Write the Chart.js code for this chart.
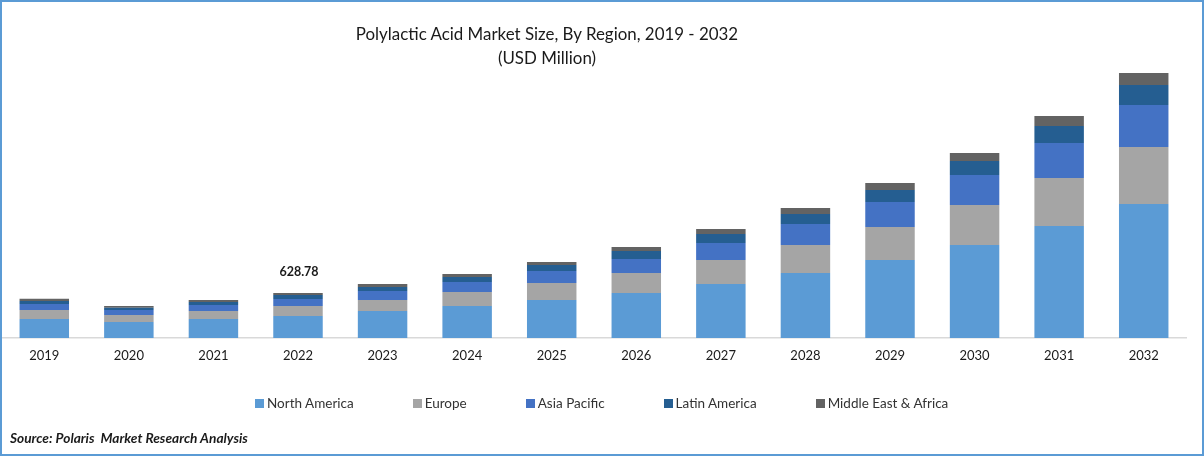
<!DOCTYPE html>
<html>
<head>
<meta charset="utf-8">
<script src="https://cdn.jsdelivr.net/npm/chart.js@4"></script>
<style>
    html, body { margin: 0; padding: 0; background: #fff; }
    #frame { position: relative; width: 1204px; height: 456px; overflow: hidden; font-family: Lato, sans-serif; color: #1a1a1a; }
    #frame::after { content: ""; position: absolute; inset: 0; border: 2px solid #5b9bd5; pointer-events: none; }
    #barChart { position: absolute; left: 0; top: 0; }
    #title { position: absolute; left: 247px; width: 600px; top: 22px; text-align: center; font-size: 16.9px; line-height: 24px; }
    #donutLegend { position: absolute; left: 255px; top: 395px; display: flex; gap: 59px; font-size: 13.5px; line-height: 17px; color: #333; white-space: nowrap; }
    #donutLegend span.swatch { display: inline-block; width: 9px; height: 9px; margin-right: 3px; }
    #source { position: absolute; left: 10px; top: 430px; font-size: 13.7px; line-height: 16px; font-weight: bold; font-style: italic; }
</style>
</head>
<body>
<div id="frame">
    <canvas id="barChart" width="1204" height="456"></canvas>
    <div id="title">Polylactic Acid Market Size, By Region, 2019 - 2032<br>(USD Million)</div>
    <div id="donutLegend"></div>
    <div id="source">Source: Polaris&nbsp; Market Research Analysis</div>
</div>
<script>
const years = ["2019", "2020", "2021", "2022", "2023", "2024", "2025", "2026", "2027", "2028", "2029", "2030", "2031", "2032"];
const regions = ["North America", "Europe", "Asia Pacific", "Latin America", "Middle East & Africa"];
const colors = ["#5b9bd5", "#a5a5a5", "#4472c4", "#255e91", "#636363"];

const northAmerica = [265, 224, 265, 307, 377, 447, 531, 629, 755, 908, 1090, 1300, 1565, 1872];
const europe = [126, 98, 112, 140, 154, 196, 238, 279, 335, 391, 461, 559, 671, 796];
const asiaPacific = [84, 70, 84, 98, 126, 140, 168, 196, 238, 293, 349, 419, 489, 587];
const latinAmerica = [42, 32, 42, 56, 56, 70, 84, 112, 126, 140, 168, 196, 238, 279];
const middleEast = [32, 24, 28, 27.78, 42, 42, 42, 56, 70, 84, 98, 112, 140, 168];

const seriesValues = [northAmerica, europe, asiaPacific, latinAmerica, middleEast];

const labelIndex = 3;
const labelText = "628.78";

// label above the 2022 stack only
const totalLabel = {
    id: "totalLabel",
    afterDatasetsDraw(chart) {
        const total = seriesValues.reduce((sum, s) => sum + s[labelIndex], 0);
        const x = chart.scales.x.getPixelForValue(labelIndex);
        const y = chart.scales.y.getPixelForValue(total);
        const c = chart.ctx;
        c.save();
        c.font = "bold 12.5px Lato";
        c.fillStyle = "#1a1a1a";
        c.textAlign = "center";
        c.textBaseline = "middle";
        c.fillText(labelText, x + 1, y - 21.5);
        c.restore();
    },
};

new Chart(document.getElementById("barChart").getContext("2d"), {
    type: "bar",
    data: {
        labels: years,
        datasets: regions.map((region, i) => ({
            label: region,
            data: seriesValues[i],
            backgroundColor: colors[i],
            borderWidth: 0,
            categoryPercentage: 1,
            barPercentage: 0.585,
        })),
    },
    options: {
        responsive: false,
        animation: false,
        layout: { padding: { left: 2, right: 18, top: 0, bottom: 0 } },
        plugins: {
            legend: { display: false },
            tooltip: { enabled: false },
        },
        scales: {
            x: {
                stacked: true,
                grid: { display: false },
                border: { color: "#d9d9d9", width: 1.5 },
                ticks: {
                    color: "#1a1a1a",
                    padding: 2,
                    maxRotation: 0,
                    font: { family: "Lato", size: 13 },
                },
                afterFit(scale) {
                    scale.height = 118;
                },
            },
            y: {
                stacked: true,
                display: false,
                min: 0,
                max: 4723,
            },
        },
    },
    plugins: [totalLabel],
});

const legendContainer = document.getElementById("donutLegend");
regions.forEach((region, index) => {
    const name = region.replace("&", "&amp;");
    legendContainer.innerHTML += `<div><span class="swatch" style="background-color: ${colors[index]}"></span>${name}</div>`;
});
</script>
</body>
</html>
